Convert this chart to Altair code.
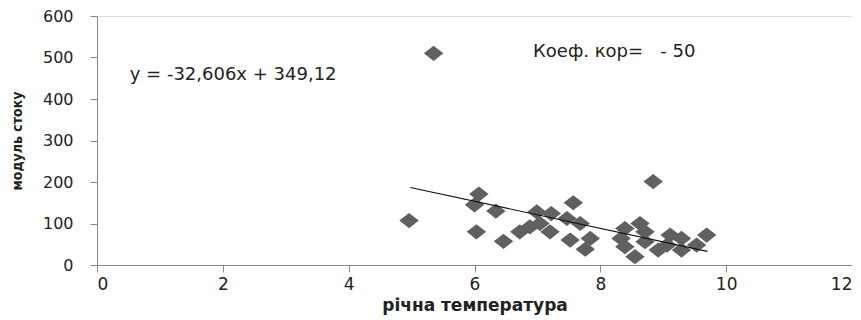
import altair as alt
import pandas as pd

temp = [5.35, 4.96, 6.07, 6.0, 6.34, 6.03, 6.46, 6.72, 6.88, 6.99,
        7.04, 7.22, 7.20, 7.47, 7.57, 7.68, 7.52, 7.84, 7.76, 8.39,
        8.63, 8.71, 8.33, 8.39, 8.55, 8.71, 8.84, 8.92, 9.11, 9.29,
        9.06, 9.29, 9.53, 9.69]
flow = [510, 107, 171, 145, 130, 80, 57, 80, 92, 128,
        100, 124, 80, 112, 150, 100, 60, 64, 38, 88,
        100, 80, 64, 44, 20, 56, 201, 36, 72, 64,
        48, 36, 48, 72]

slope = -32.606
intercept = 349.12
trend_x = [4.98, 9.7]
trend_y = [slope * v + intercept for v in trend_x]

labels = ["y = -32,606x + 349,12", "Коеф. кор=\u00a0\u00a0\u00a0-\u00a050"]
label_x = [0.52, 6.93]
label_y = [458, 513]

pts = pd.DataFrame({"t": temp, "q": flow})
trend = pd.DataFrame({"t": trend_x, "q": trend_y})
ann = pd.DataFrame({"t": label_x, "q": label_y, "txt": labels})

FONT = "DejaVu Sans"
NARROW = "DejaVu Sans Condensed, Liberation Sans"

xs = alt.Scale(domain=[0, 12], nice=False)
ys = alt.Scale(domain=[0, 600], nice=False)

xaxis = alt.Axis(values=[0, 2, 4, 6, 8, 10, 12], format="d", grid=False, title="річна температура",
                 labelFont=FONT, labelFontSize=17, labelColor="#222", labelPadding=4,
                 titleFont=FONT, titleFontSize=17, titleFontWeight="bold", titleColor="#222",
                 titlePadding=5, domainColor="#888", tickColor="#888", tickSize=7)
yaxis = alt.Axis(values=[0, 100, 200, 300, 400, 500, 600], format="d", grid=False, title="модуль стоку",
                 labelFont=FONT, labelFontSize=16, labelColor="#222", labelPadding=17,
                 titleFont=NARROW, titleFontSize=14, titleFontWeight="bold",
                 titleColor="#222", titlePadding=18, domainColor="#888", tickColor="#888", tickSize=7)

base = alt.Chart(pts)
points = base.mark_point(
    shape="M-1,0L0,-0.78L1,0L0,0.78Z", filled=True, fill="#606060", opacity=1, size=380, strokeWidth=0
).encode(x=alt.X("t:Q", scale=xs, axis=xaxis), y=alt.Y("q:Q", scale=ys, axis=yaxis))

line = alt.Chart(trend).mark_line(color="#111", strokeWidth=1.2).encode(
    x=alt.X("t:Q", scale=xs), y=alt.Y("q:Q", scale=ys))

text = alt.Chart(ann).mark_text(align="left", baseline="middle", font=FONT, fontSize=18, color="#222").encode(
    x=alt.X("t:Q", scale=xs), y=alt.Y("q:Q", scale=ys), text="txt:N")

chart = alt.layer(points, line, text).properties(
    width=755, height=249, autosize="none",
    padding={"left": 89, "top": 8, "right": 0, "bottom": 52},
).configure_view(stroke=None).configure(background="white")

chart.save("out.html", embed_options={"renderer": "svg", "actions": False})
